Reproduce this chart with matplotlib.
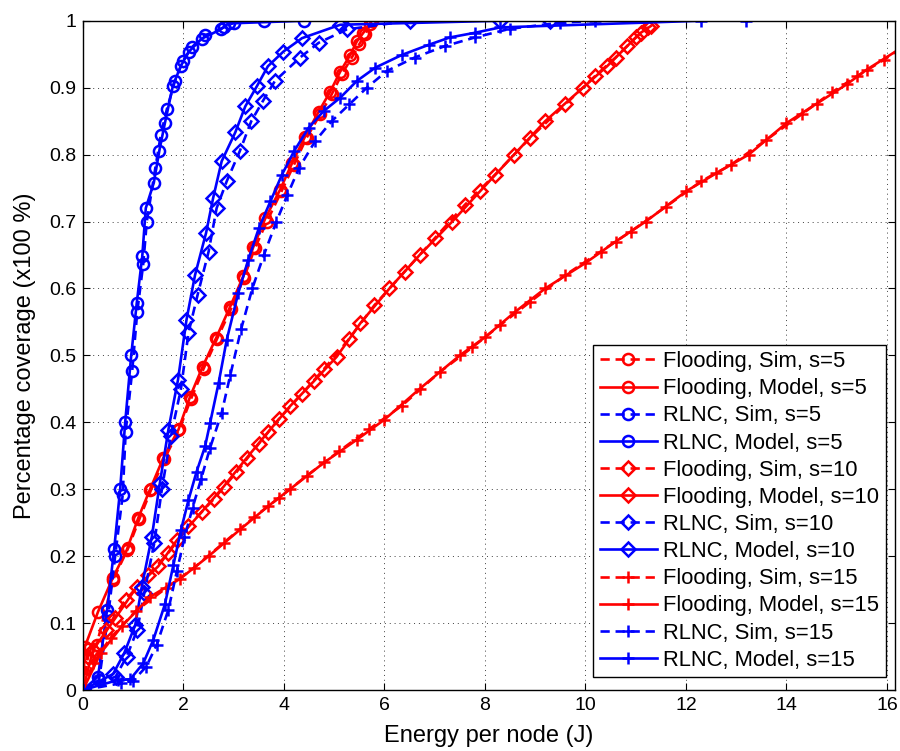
import matplotlib
matplotlib.use("Agg")
import matplotlib.pyplot as plt

plt.rcParams['font.family'] = ['Liberation Sans', 'DejaVu Sans']

# ---- data ----
# s = 5
flood_sim_5_x = [0, 0.1, 0.27, 0.6, 0.9, 1.12, 1.36, 1.62, 1.92, 2.15, 2.4, 2.67, 2.95, 3.2, 3.42,
                 3.66, 3.95, 4.2, 4.45, 4.72, 4.95, 5.15, 5.35, 5.5, 5.62, 5.72]
flood_sim_5_y = [0, 0.062, 0.067, 0.165, 0.212, 0.255, 0.3, 0.345, 0.39, 0.435, 0.48, 0.525, 0.57,
                 0.615, 0.66, 0.70, 0.745, 0.785, 0.825, 0.86, 0.89, 0.92, 0.945, 0.965, 0.98, 0.995]
flood_mod_5_x = [0, 0.04, 0.3, 0.59, 0.87, 1.1, 1.33, 1.6, 1.9, 2.13, 2.38, 2.65, 2.93, 3.19, 3.39,
                 3.63, 3.92, 4.16, 4.42, 4.69, 4.92, 5.12, 5.32, 5.45, 5.58, 5.75]
flood_mod_5_y = [0, 0.065, 0.117, 0.167, 0.209, 0.257, 0.299, 0.347, 0.389, 0.438, 0.483, 0.526,
                 0.573, 0.618, 0.662, 0.705, 0.747, 0.787, 0.827, 0.864, 0.894, 0.924, 0.949, 0.969,
                 0.982, 1.0]
rlnc_sim_5_x = [0, 0.32, 0.5, 0.64, 0.79, 0.85, 0.98, 1.08, 1.2, 1.27, 1.44, 1.55, 1.67, 1.83, 1.99,
                2.16, 2.42, 2.8, 3.0, 3.6]
rlnc_sim_5_y = [0, 0.015, 0.11, 0.2, 0.291, 0.386, 0.477, 0.565, 0.637, 0.70, 0.78, 0.83, 0.868,
                0.91, 0.94, 0.96, 0.978, 0.99, 0.997, 1.0]
rlnc_mod_5_x = [0, 0.3, 0.48, 0.62, 0.74, 0.84, 0.96, 1.07, 1.18, 1.25, 1.41, 1.52, 1.63, 1.79, 1.95,
                2.11, 2.36, 2.74, 2.9, 4.4]
rlnc_mod_5_y = [0, 0.02, 0.12, 0.21, 0.30, 0.40, 0.50, 0.578, 0.648, 0.72, 0.758, 0.806, 0.847,
                0.903, 0.933, 0.954, 0.973, 0.987, 0.996, 1.0]

# s = 10
flood_sim_10_x = [0, 0.1, 0.45, 0.85, 1.3, 1.7, 2.1, 2.6, 3.05, 3.5, 3.9, 4.35, 4.8, 5.3, 5.8, 6.4,
                  7.0, 7.6, 8.2, 8.9, 9.6, 10.2, 10.6, 11.0, 11.25]
flood_sim_10_y = [0, 0.05, 0.09, 0.135, 0.172, 0.205, 0.245, 0.285, 0.325, 0.368, 0.405, 0.442,
                  0.48, 0.525, 0.575, 0.625, 0.675, 0.725, 0.77, 0.825, 0.875, 0.918, 0.945, 0.975,
                  0.99]
flood_mod_10_x = [0, 0.2, 0.64, 1.07, 1.5, 1.87, 2.36, 2.8, 3.26, 3.69, 4.12, 4.59, 5.05, 5.52, 6.1,
                  6.7, 7.35, 7.9, 8.58, 9.2, 9.95, 10.43, 10.83, 11.1, 11.3]
flood_mod_10_y = [0, 0.06, 0.107, 0.154, 0.185, 0.224, 0.266, 0.304, 0.347, 0.386, 0.424, 0.461,
                  0.498, 0.548, 0.6, 0.65, 0.7, 0.745, 0.8, 0.85, 0.9, 0.932, 0.962, 0.982, 0.992]
rlnc_sim_10_x = [0, 0.65, 0.87, 1.08, 1.22, 1.42, 1.57, 1.75, 1.95, 2.1, 2.28, 2.5, 2.66, 2.86, 3.12,
                 3.35, 3.58, 3.82, 4.32, 4.69, 5.25, 6.5]
rlnc_sim_10_y = [0, 0.02, 0.05, 0.09, 0.145, 0.22, 0.30, 0.38, 0.45, 0.534, 0.59, 0.655, 0.72, 0.76,
                 0.805, 0.85, 0.88, 0.91, 0.945, 0.967, 0.987, 1.0]
rlnc_mod_10_x = [0, 0.6, 0.82, 1.04, 1.17, 1.37, 1.53, 1.70, 1.89, 2.06, 2.23, 2.45, 2.59, 2.76, 3.03,
                 3.23, 3.46, 3.68, 3.99, 4.36, 5.12, 8.3, 9.3]
rlnc_mod_10_y = [0, 0.024, 0.055, 0.097, 0.154, 0.229, 0.309, 0.389, 0.463, 0.553, 0.62, 0.683,
                 0.735, 0.79, 0.833, 0.872, 0.902, 0.932, 0.954, 0.974, 0.994, 1.0, 1.0]

# s = 15
flood_sim_15_x = [0, 0.2, 0.55, 1.05, 1.65, 2.2, 2.8, 3.4, 3.9, 4.45, 5.1, 5.7, 6.35, 7.1, 7.75, 8.3,
                  8.9, 9.6, 10.3, 10.9, 11.6, 12.3, 12.9, 13.6, 14.3, 14.9, 15.4, 15.95, 16.4]
flood_sim_15_y = [0, 0.04, 0.078, 0.118, 0.152, 0.182, 0.22, 0.258, 0.287, 0.32, 0.357, 0.39, 0.425,
                  0.475, 0.512, 0.545, 0.58, 0.62, 0.655, 0.685, 0.722, 0.76, 0.785, 0.822, 0.86,
                  0.893, 0.917, 0.942, 0.965]
flood_mod_15_x = [0, 0.35, 0.77, 1.33, 1.93, 2.5, 3.13, 3.69, 4.12, 4.8, 5.45, 6.0, 6.7, 7.5, 8.0,
                  8.6, 9.2, 10.0, 10.6, 11.2, 12.0, 12.6, 13.25, 14.0, 14.6, 15.2, 15.6, 16.3]
flood_mod_15_y = [0, 0.055, 0.095, 0.139, 0.166, 0.2, 0.24, 0.275, 0.3, 0.34, 0.374, 0.404, 0.45,
                  0.5, 0.527, 0.565, 0.6, 0.638, 0.67, 0.7, 0.745, 0.772, 0.8, 0.847, 0.876, 0.905,
                  0.927, 0.96]
rlnc_sim_15_x = [0, 0.75, 1.0, 1.26, 1.47, 1.7, 1.87, 2.02, 2.18, 2.35, 2.53, 2.76, 2.93, 3.15, 3.37,
                 3.6, 3.85, 4.07, 4.3, 4.62, 4.95, 5.3, 5.65, 6.05, 6.6, 7.2, 7.8, 8.5, 9.5, 10.2]
rlnc_sim_15_y = [0, 0.01, 0.014, 0.035, 0.068, 0.12, 0.178, 0.228, 0.272, 0.315, 0.362, 0.414, 0.47,
                 0.54, 0.6, 0.65, 0.70, 0.74, 0.78, 0.82, 0.85, 0.875, 0.90, 0.925, 0.945, 0.962,
                 0.975, 0.988, 0.997, 1.0]
rlnc_mod_15_x = [0, 0.7, 0.94, 1.2, 1.4, 1.63, 1.8, 1.95, 2.1, 2.26, 2.43, 2.53, 2.7, 2.86, 3.09,
                 3.29, 3.5, 3.73, 3.96, 4.2, 4.49, 4.79, 5.12, 5.45, 5.82, 6.35, 6.88, 7.3, 7.8, 8.3,
                 12.3, 13.2]
rlnc_mod_15_y = [0, 0.015, 0.016, 0.04, 0.075, 0.128, 0.187, 0.239, 0.284, 0.326, 0.364, 0.399,
                 0.459, 0.523, 0.593, 0.643, 0.69, 0.73, 0.77, 0.805, 0.84, 0.865, 0.885, 0.91,
                 0.93, 0.949, 0.964, 0.975, 0.982, 0.99, 1.0, 1.0]

series = [
    (flood_sim_5_x, flood_sim_5_y, 'red', '--', 'o', 'Flooding, Sim, s=5'),
    (flood_mod_5_x, flood_mod_5_y, 'red', '-', 'o', 'Flooding, Model, s=5'),
    (rlnc_sim_5_x, rlnc_sim_5_y, 'blue', '--', 'o', 'RLNC, Sim, s=5'),
    (rlnc_mod_5_x, rlnc_mod_5_y, 'blue', '-', 'o', 'RLNC, Model, s=5'),
    (flood_sim_10_x, flood_sim_10_y, 'red', '--', 'D', 'Flooding, Sim, s=10'),
    (flood_mod_10_x, flood_mod_10_y, 'red', '-', 'D', 'Flooding, Model, s=10'),
    (rlnc_sim_10_x, rlnc_sim_10_y, 'blue', '--', 'D', 'RLNC, Sim, s=10'),
    (rlnc_mod_10_x, rlnc_mod_10_y, 'blue', '-', 'D', 'RLNC, Model, s=10'),
    (flood_sim_15_x, flood_sim_15_y, 'red', '--', '+', 'Flooding, Sim, s=15'),
    (flood_mod_15_x, flood_mod_15_y, 'red', '-', '+', 'Flooding, Model, s=15'),
    (rlnc_sim_15_x, rlnc_sim_15_y, 'blue', '--', '+', 'RLNC, Sim, s=15'),
    (rlnc_mod_15_x, rlnc_mod_15_y, 'blue', '-', '+', 'RLNC, Model, s=15'),
]

fig = plt.figure(figsize=(9, 7.51), dpi=100)
ax = fig.add_axes([0.0922, 0.0812, 0.9022, 0.8912])

for x, y, c, ls, mk, lab in series:
    ms = {'o': 8.0, 'D': 6.8, '+': 8.5}[mk]
    line, = ax.plot(x, y, color=c, linestyle=ls, linewidth=1.9, marker=mk,
                    markersize=ms, markerfacecolor='none', markeredgecolor=c,
                    markeredgewidth=1.8, label=lab, clip_on=True)
    if ls == '--':
        line.set_dashes((3.5, 2.2))

ax.set_xlim(0, 16.16)
ax.set_ylim(0, 1)
ax.set_xticks(range(0, 17, 2))
ax.set_yticks([i / 10 for i in range(11)])
ax.set_yticklabels(['0'] + ['%.1f' % (i / 10) for i in range(1, 10)] + ['1'])
ax.tick_params(direction='in', top=True, right=True, length=5, width=0.8,
               labelsize=14, pad=5)
ax.grid(True, linestyle=(0, (1, 4)), color='0.25', linewidth=0.7)
for sp in ax.spines.values():
    sp.set_linewidth(1.0)

ax.set_xlabel('Energy per node (J)', fontsize=17, labelpad=8)
ax.set_ylabel('Percentage coverage (x100 %)', fontsize=17, labelpad=9)

leg = ax.legend(loc='lower right', bbox_to_anchor=(0.989, 0.019), borderaxespad=0,
                fontsize=15.8, handlelength=2.6, handletextpad=0.3, labelspacing=0.28,
                borderpad=0.3, fancybox=False, framealpha=1, edgecolor='black')
leg.get_frame().set_linewidth(1.0)

fig.savefig('out.png', dpi=100)
